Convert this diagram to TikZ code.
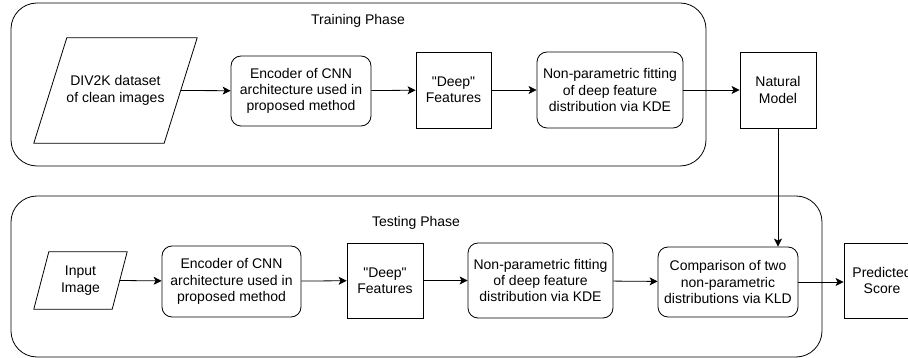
\documentclass[tikz,border=0pt]{standalone}
\usepackage{fontspec}
\setmainfont{Liberation Sans}
\usepackage{tikz}
\usetikzlibrary{positioning,arrows.meta}
\tikzstyle{phase} = [draw, line width=0.8pt, rounded corners=26pt]
\tikzstyle{proc} = [draw, line width=0.8pt, rounded corners=10pt, align=center, inner sep=0pt]
\tikzstyle{feat} = [draw, line width=0.8pt, align=center, inner sep=0pt]
\tikzstyle{data} = [align=center, inner sep=0pt]
\tikzstyle{slant} = [line width=0.8pt, line join=miter]
\tikzstyle{arr} = [line width=0.8pt, -{Stealth[length=8pt,width=8pt,inset=2pt]}]

\begin{document}
\begin{tikzpicture}[x=1pt, y=-1pt, font=\fontsize{14}{16.3}\selectfont]
			\clip (0,0) rectangle (908,358);
			% phases
			\draw[phase] (11,3) rectangle (706,166);
			\node (trainlbl) at (358,21) {Training Phase};
			\draw[phase] (11,196) rectangle (822,357);
			\node (testlbl) at (416,223) {Testing Phase};
			% training
			\node[data, minimum width=163, minimum height=105] (div) at (115.5,90.5) {DIV2K dataset\\of clean images};
			\draw[slant] (div.south west) -- ([xshift=-33pt]div.south east) -- (div.north east) -- ([xshift=33pt]div.north west) -- cycle;
			\node[proc, minimum width=140, minimum height=70] (enc1) at (301,91) {Encoder of CNN\\architecture used in\\proposed method};
			\node[feat, minimum width=75, minimum height=76] (deep1) at (453.5,90) {\textquotedbl Deep\textquotedbl\\Features};
			\node[proc, minimum width=146, minimum height=76] (kde1) at (610,90) {Non-parametric fitting\\of deep feature\\distribution via KDE};
			\node[feat, minimum width=76, minimum height=76] (nat) at (778,90) {Natural\\Model};
			% testing
			\node[data, minimum width=93, minimum height=57] (inp) at (80.5,280.5) {Input\\Image};
			\draw[slant] (inp.south west) -- ([xshift=-15pt]inp.south east) -- (inp.north east) -- ([xshift=15pt]inp.north west) -- cycle;
			\node[proc, minimum width=139, minimum height=71] (enc2) at (231.5,281.5) {Encoder of CNN\\architecture used in\\proposed method};
			\node[feat, minimum width=76, minimum height=75] (deep2) at (385,280.5) {\textquotedbl Deep\textquotedbl\\Features};
			\node[proc, minimum width=145, minimum height=75] (kde2) at (540.5,280.5) {Non-parametric fitting\\of deep feature\\distribution via KDE};
			\node[proc, minimum width=140, minimum height=70] (cmp) at (728,282) {Comparison of two\\non-parametric\\distributions via KLD};
			\node[feat, minimum width=76, minimum height=75] (pred) at (882,280.5) {Predicted\\Score};
			\draw[arr] ([xshift=-16.5pt]div.east) -- (enc1);
			\draw[arr] (enc1) -- (deep1);
			\draw[arr] (deep1) -- (kde1);
			\draw[arr] (kde1) -- (nat);
			\draw[arr] (nat.south) -- (nat.south |- cmp.north);
			\draw[arr] ([xshift=-7.5pt]inp.east) -- (enc2);
			\draw[arr] (enc2) -- (deep2);
			\draw[arr] (deep2) -- (kde2);
			\draw[arr] (kde2) -- (cmp);
			\draw[arr] (cmp) -- (cmp -| pred.west);
		\end{tikzpicture}
\end{document}
